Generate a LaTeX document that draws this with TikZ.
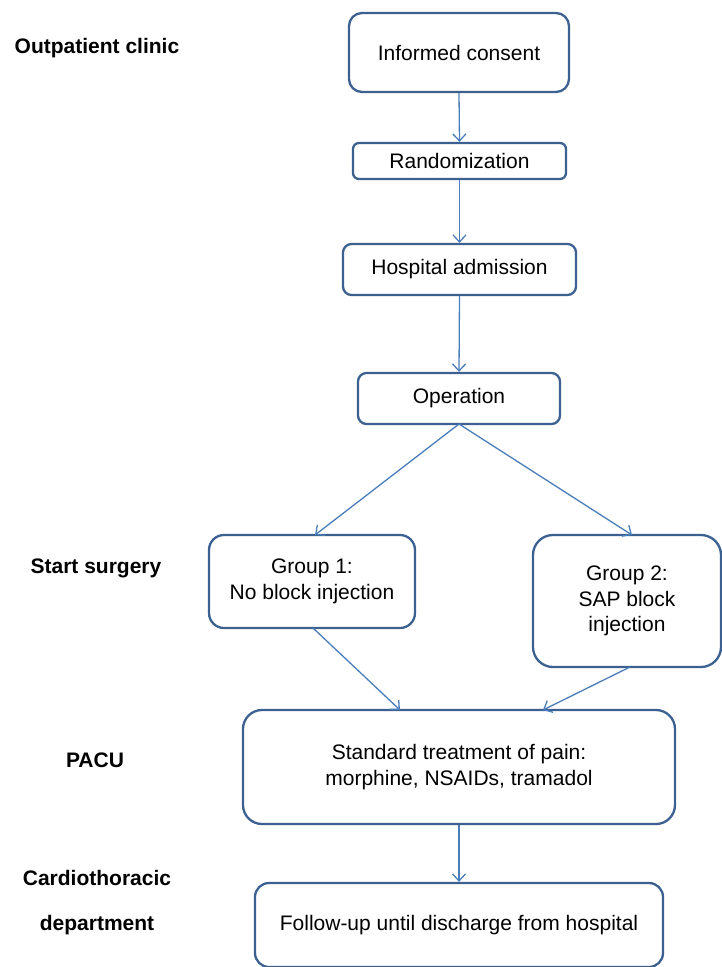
\documentclass[tikz,border=0pt]{standalone}
\usepackage{fontspec}
\setmainfont{Liberation Sans}
\usetikzlibrary{arrows.meta}
\definecolor{boxblue}{RGB}{60,97,145}
\definecolor{arrblue}{RGB}{74,126,187}
\tikzset{
  x=1pt,y=1pt,
  box/.style={draw=boxblue, line width=2.3pt, align=center, inner sep=0pt,
    font=\fontsize{21}{25.5}\selectfont, text=black},
  lab/.style={font=\fontsize{21}{25}\selectfont\bfseries, anchor=center},
  conn/.style={draw=arrblue, line width=1.3pt, -{Straight Barb[length=7pt,width=13pt,line width=1.3pt]}}
}
\begin{document}
\begin{tikzpicture}
\useasboundingbox (0,0) rectangle (722,-967);
% boxes
\node[box, rounded corners=13pt, minimum width=220pt, minimum height=79pt] (ic) at (459,-52.5) {Informed consent};
\node[box, rounded corners=6pt, minimum width=213pt, minimum height=36pt] (rd) at (459.5,-161) {Randomization};
\node[box, rounded corners=8.5pt, minimum width=233pt, minimum height=51pt] (ha) at (459.5,-269.5) {Hospital admission};
\node[box, rounded corners=8.5pt, minimum width=202pt, minimum height=51pt] (op) at (459,-398.5) {Operation};
\node[box, rounded corners=15pt, minimum width=206pt, minimum height=93pt] (g1) at (312,-581.5) {Group 1:\\No block injection};
\node[box, rounded corners=20pt, minimum width=188pt, minimum height=132pt] (g2) at (627,-601) {Group 2:\\SAP block\\injection};
\node[box, rounded corners=19pt, minimum width=432pt, minimum height=114pt] (pa) at (459,-767) {Standard treatment of pain:\\morphine, NSAIDs, tramadol};
\node[box, rounded corners=14pt, minimum width=408pt, minimum height=84pt] (fu) at (459,-925) {Follow-up until discharge from hospital};
% side labels
\node[lab] (l1) at (97,-48) {Outpatient clinic};
\node[lab] (l2) at (96,-568) {Start surgery};
\node[lab] (l3) at (95,-760) {PACU};
\node[lab] (l4) at (97,-878) {Cardiothoracic};
\node[lab] (l5) at (97,-925) {department};
% connectors
\coordinate (opb) at (459,-424);
\coordinate (g1t) at (315,-535);
\coordinate (g2t) at (632,-535);
\coordinate (g1b) at (313,-628);
\coordinate (g2b) at (630,-667);
\coordinate (pat1) at (400,-710);
\coordinate (pat2) at (543,-710);
\draw[conn] (ic.south) -- (rd.north);
\draw[conn] (rd.south) -- (ha.north);
\draw[conn] (ha.south) -- (op.north);
\draw[conn] (opb) -- (g1t);
\draw[conn] (opb) -- (g2t);
\draw[conn] (g1b) -- (pat1);
\draw[conn] (g2b) -- (pat2);
\draw[conn] (pa.south) -- (fu.north);
\end{tikzpicture}
\end{document}
